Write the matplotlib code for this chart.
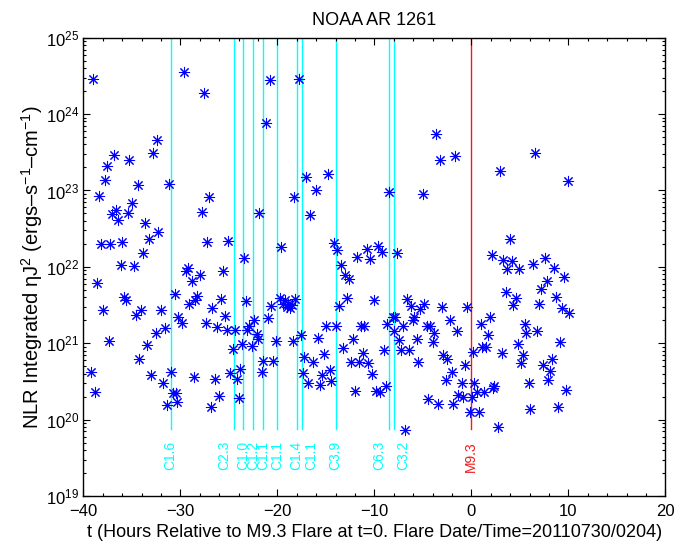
import numpy as np
import matplotlib
matplotlib.use("Agg")
import matplotlib.pyplot as plt
from matplotlib.ticker import LogLocator, MultipleLocator, FixedLocator, NullFormatter

plt.rcParams['font.family'] = ['Liberation Sans', 'DejaVu Sans']
plt.rcParams['mathtext.fontset'] = 'custom'
plt.rcParams['mathtext.rm'] = 'Liberation Sans'
plt.rcParams['mathtext.it'] = 'Liberation Sans:italic'
plt.rcParams['mathtext.bf'] = 'Liberation Sans:bold'

# Time relative to the M9.3 flare (hours) and log10 of integrated NLR eta*J^2
t_hours = [
    -39.0, -38.4, -37.76, -37.55, -36.8, -35.25, -34.4, -35.0, -36.6, -37.0,
    -36.4, -35.4, -33.6, -32.25, -33.2, -38.2, -37.2, -36.05, -33.8, -36.1,
    -34.75, -38.55, -30.55, -35.8, -35.6, -38.0, -34.6, -34.1, -32.0, -30.2,
    -31.6, -32.5, -37.35, -33.4, -34.25, -39.2, -33.0, -31.0, -31.8, -38.8,
    -30.8, -30.4, -31.4, -30.3, -32.4, -32.85, -31.2,
    -29.6, -20.8, -17.8, -27.6, -21.2, -27.0, -27.8, -21.85, -17.0, -16.0,
    -14.8, -18.3, -8.45,
    -16.6, -27.2, -25.05, -19.6, -23.4, -29.2, -29.4, -28.0, -28.8, -25.6,
    -14.2, -13.8, -10.8, -9.6, -9.2, -10.4, -11.8, -7.65, -13.4, -13.05,
    -12.6, -28.25, -28.5, -29.1, -25.8, -26.7, -23.2, -20.7, -19.7,
    -19.2, -18.9, -18.5, -19.0, -18.7, -19.4, -18.2,
    -13.6, -12.8, -10.0, -29.8, -27.4, -26.2, -25.4, -25.2, -24.4, -22.4,
    -22.9, -23.1, -21.0, -22.1, -21.95, -23.6, -24.6, -22.65, -20.1, -18.4,
    -17.6, -15.8, -14.0, -15.0, -11.4, -11.05, -12.2, -13.2, -11.2, -9.0,
    -8.1, -8.7, -8.0, -7.5, -21.45, -20.4, -21.6, -23.8, -24.9, -24.2,
    -26.4, -28.6, -26.0, -26.8, -24.0, -17.25, -16.3, -15.2, -17.4, -15.4,
    -14.6, -16.8, -15.6, -14.5, -12.4, -11.6, -10.6, -10.2, -12.0, -9.8,
    -9.4, -8.8,
    -6.65, -6.2, -5.3, -4.85, -3.0, -0.47, -7.9, -5.9, -6.05, -2.2,
    -7.0, -4.6, -4.25, -3.85, -1.45, 1.0, 1.9, 1.75, -5.6, -4.0,
    -7.25, -6.4, 1.15, 1.5, 0.2, 3.15, 4.8, 5.35, 5.1, 7.35,
    8.35, 8.1, 7.9, 9.15, 5.55, 5.6, 6.75, 4.0, 2.15, 3.3,
    4.15, 3.7, 4.95, 6.35, 7.6, 8.55, 9.6, 7.8, 7.15, 3.55,
    4.6, 4.3, 7.0, 8.75, 9.4, 10.1, -5.45, -2.9, -2.5, -0.65,
    -2.0, -2.65, -1.0, 0.28, 0.55, 1.3, 2.35, 2.25, -1.35, -0.9,
    0.05, -4.5, -3.45, -1.85, -0.1, 0.75, 5.95, 6.1, 8.95, 9.75,
    2.8, -6.85,
    -3.6, -3.2, -1.65, 3.0, 6.55, 9.95, -5.0,
]
log_eta_j2 = [
    24.46, 22.93, 23.14, 23.32, 23.46, 23.40, 23.07, 22.83, 22.74, 22.69,
    22.61, 22.70, 22.57, 22.46, 22.36, 22.30, 22.30, 22.32, 22.18, 22.03,
    22.01, 21.79, 21.65, 21.60, 21.56, 21.43, 21.37, 21.43, 21.44, 21.35,
    21.20, 21.14, 21.03, 20.98, 20.80, 20.62, 20.59, 20.62, 20.48, 20.36,
    20.35, 20.35, 20.19, 20.23, 23.66, 23.49, 23.09,
    24.55, 24.45, 24.46, 24.28, 23.88, 22.91, 22.72, 22.70, 23.18, 23.00,
    23.22, 22.91, 22.98,
    22.68, 22.33, 22.34, 22.26, 22.12, 21.99, 21.94, 21.90, 21.81, 21.95,
    22.31, 22.22, 22.24, 22.27, 22.19, 22.10, 22.13, 22.18, 22.02, 21.89,
    21.84, 21.62, 21.57, 21.51, 21.58, 21.46, 21.55, 21.49, 21.59,
    21.57, 21.52, 21.50, 21.48, 21.46, 21.52, 21.58,
    21.49, 21.59, 21.57, 21.27, 21.27, 21.21, 21.36, 21.18, 21.18, 21.31,
    21.23, 21.18, 21.33, 21.12, 21.05, 20.99, 20.93, 20.97, 21.03, 21.03,
    21.11, 21.07, 21.23, 21.22, 21.23, 21.23, 21.06, 20.94, 20.87, 20.91,
    21.34, 21.25, 21.16, 21.04, 20.77, 20.77, 20.63, 20.66, 20.61, 20.53,
    20.53, 20.56, 20.31, 20.16, 20.28, 20.82, 20.76, 20.86, 20.61, 20.58,
    20.65, 20.48, 20.45, 20.50, 20.75, 20.75, 20.74, 20.60, 20.38, 20.37,
    20.36, 20.44,
    21.58, 21.49, 21.45, 21.51, 21.48, 21.48, 21.34, 21.34, 21.31, 21.31,
    21.23, 21.22, 21.23, 21.14, 21.16, 21.25, 21.34, 21.11, 21.06, 21.02,
    20.91, 20.91, 20.95, 20.95, 20.88, 20.87, 20.99, 20.85, 20.74, 20.72,
    20.79, 20.64, 20.52, 21.01, 21.25, 21.14, 21.16, 22.37, 22.15, 22.09,
    22.08, 21.97, 21.97, 22.04, 22.11, 21.98, 21.87, 21.81, 21.71, 21.67,
    21.59, 21.50, 21.52, 21.61, 21.46, 21.39, 20.75, 20.84, 20.79, 20.71,
    20.63, 20.52, 20.48, 20.48, 20.36, 20.36, 20.44, 20.41, 20.32, 20.30,
    20.30, 20.27, 20.21, 20.21, 20.10, 20.10, 20.48, 20.14, 20.17, 20.39,
    19.91, 19.87,
    23.74, 23.40, 23.45, 23.25, 23.49, 23.12, 22.96,
]

# GOES flares: onset time, label position and class
flare_times = [-31.0, -24.5, -23.5, -22.5, -21.5, -20.0, -18.0, -17.5, -14.0, -8.5, -8.0, 0.0]
flare_label_times = [-31.0, -25.5, -23.5, -22.5, -21.5, -20.0, -18.0, -16.5, -14.0, -9.5, -7.0, 0.0]
flare_classes = ['C1.6', 'C2.3', 'C1.0', 'C1.2', 'C1.1', 'C1.1', 'C1.4', 'C1.1', 'C3.9', 'C6.3', 'C3.2', 'M9.3']

x_ticks = [-40, -30, -20, -10, 0, 10, 20]

fig = plt.figure(figsize=(6.74, 5.52), dpi=100)
ax = fig.add_axes([0.1236, 0.1014, 0.8635, 0.8303])

eta_j2 = 10.0 ** np.asarray(log_eta_j2)

line_bottom = 10 ** 19.875
label_top = 10 ** 19.72
for tf, tl, cls in zip(flare_times, flare_label_times, flare_classes):
    col = (0.95, 0.1, 0.1) if cls.startswith('M') else (0.0, 1.0, 1.0)
    ax.plot([tf, tf], [line_bottom, 1e25], color=col, lw=1.0, zorder=1)
    ax.text(tl, label_top, cls, rotation=90, ha='center', va='top',
            color=col, fontsize=10)

ax.plot(t_hours, eta_j2, linestyle='none', marker=(8, 2, 0), markersize=8,
        markeredgewidth=0.75, color=(0.0, 0.0, 1.0), zorder=3)

ax.set_yscale('log')
ax.set_xlim(-40, 20)
ax.set_ylim(1e19, 1e25)
ax.xaxis.set_major_locator(FixedLocator(x_ticks))
ax.xaxis.set_minor_locator(MultipleLocator(2))
ax.yaxis.set_major_locator(LogLocator(base=10, numticks=10))
ax.yaxis.set_minor_locator(LogLocator(base=10, subs=np.arange(2, 10), numticks=20))
ax.yaxis.set_minor_formatter(NullFormatter())

ax.tick_params(which='both', direction='in', top=True, right=True, labelsize=12, width=0.8)
ax.tick_params(which='major', length=5)
ax.tick_params(which='minor', length=2.5)
ax.tick_params(axis='x', pad=6)
ax.tick_params(axis='y', pad=3)
for s in ax.spines.values():
    s.set_linewidth(1.0)

ax.set_title('NOAA AR 1261', fontsize=13, pad=9)
ax.set_xlabel('t (Hours Relative to M9.3 Flare at t=0. Flare Date/Time=20110730/0204)',
              fontsize=13, labelpad=3)
ax.set_ylabel('NLR Integrated \u03b7J$^{2}$ (ergs\u2013s$^{-1}$\u2013cm$^{-1}$)',
              fontsize=14.5, labelpad=1)

fig.savefig('out.png', dpi=100)
